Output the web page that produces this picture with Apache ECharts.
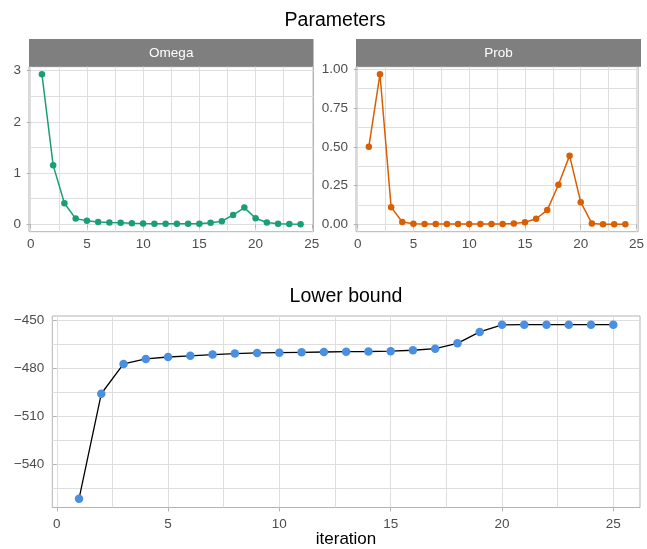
<!DOCTYPE html>
<html><head><meta charset="utf-8">
<script src="https://cdn.jsdelivr.net/npm/echarts@6/dist/echarts.min.js"></script>
<style>html,body{margin:0;padding:0;background:#fff}#c{width:647px;height:549px}</style>
</head><body><div id="c"></div>
<script>
// ---- data ----
const iterParams = [1,2,3,4,5,6,7,8,9,10,11,12,13,14,15,16,17,18,19,20,21,22,23,24];
const omega = [2.93,1.15,0.41,0.11,0.07,0.045,0.035,0.03,0.02,0.015,0.012,0.01,0.01,0.01,0.01,0.03,0.06,0.18,0.325,0.117,0.035,0.008,0.003,0.001];
const prob = [0.5,0.968,0.111,0.015,0.004,0.002,0.002,0.002,0.002,0.002,0.002,0.002,0.003,0.006,0.013,0.036,0.092,0.255,0.443,0.143,0.006,0.001,0.001,0.001];
const iterLB = [1,2,3,4,5,6,7,8,9,10,11,12,13,14,15,16,17,18,19,20,21,22,23,24,25];
const lowerBound = [-561.3,-495.9,-477.3,-474.2,-473.0,-472.3,-471.5,-470.9,-470.5,-470.3,-470.1,-469.9,-469.7,-469.6,-469.4,-468.8,-467.8,-464.5,-457.4,-453.0,-452.9,-452.9,-452.9,-452.9,-452.9];
const xTicks = [0,5,10,15,20,25];
const xMinor = [2.5,7.5,12.5,17.5,22.5];
const omegaTicks = [0,1,2,3];
const omegaMinor = [0.5,1.5,2.5];
const probTicks = [0,0.25,0.5,0.75,1];
const probMinor = [0.125,0.375,0.625,0.875];
const lbTicks = [-540,-510,-480,-450];
const lbMinor = [-555,-525,-495,-465];
const stripLabels = ['Omega','Prob'];
const titles = ['Parameters','Lower bound'];
const xTitle = 'iteration';

// ---- helpers ----
const FONT = '"Liberation Sans", Arial, sans-serif';
function expand(a){const mn=Math.min(...a),mx=Math.max(...a),d=(mx-mn)*0.05;return [mn-d,mx+d];}
const pair = (xs,ys)=>xs.map((x,i)=>[x,ys[i]]);
const GRIDC = '#dedede', BORDER = '#b3b3b3', TXT = '#4d4d4d';
const minus = v => String(v).replace('-', '\u2212');

const grids = [
  {left:29, top:66.7, width:284.5, height:165},
  {left:356, top:66.7, width:285, height:165},
  {left:52.3, top:316, width:587.7, height:191.5}
];
const xr = [expand(iterParams), expand(iterParams), expand(iterLB)];
const yr = [expand(omega), expand(prob), expand(lowerBound)];
const yTicks = [omegaTicks, probTicks, lbTicks];
const yMinor = [omegaMinor, probMinor, lbMinor];
const yFmt = [v=>String(v), v=>v.toFixed(2), minus];
const xMargin = [6,9,9.5];
xMargin[1] = 6;

const xAxis = [], yAxis = [];
grids.forEach((g,i)=>{
  xAxis.push({type:'value', gridIndex:i, min:xr[i][0], max:xr[i][1], position:'bottom',
    axisLine:{show:false},
    axisTick:{show:true, customValues:xTicks, length:4, lineStyle:{color:BORDER}},
    axisLabel:{customValues:xTicks, color:TXT, fontSize:13.5, fontFamily:FONT, margin:xMargin[i]},
    splitLine:{show:true, lineStyle:{color:GRIDC, width:1}}});
  yAxis.push({type:'value', gridIndex:i, min:yr[i][0], max:yr[i][1],
    axisLine:{show:false},
    axisTick:{show:true, customValues:yTicks[i], length:4, lineStyle:{color:BORDER}},
    axisLabel:{customValues:yTicks[i], color:TXT, fontSize:13.5, fontFamily:FONT, margin:8, formatter:yFmt[i]},
    splitLine:{show:true, lineStyle:{color:GRIDC, width:1}}});
});
// minor gridline axes
grids.forEach((g,i)=>{
  xAxis.push({type:'value', gridIndex:i, min:xr[i][0], max:xr[i][1], position:'bottom',
    axisLine:{show:false}, axisLabel:{show:false},
    axisTick:{show:false, customValues:xMinor},
    splitLine:{show:true, lineStyle:{color:GRIDC, width:1}}});
  yAxis.push({type:'value', gridIndex:i, min:yr[i][0], max:yr[i][1], position:'left',
    axisLine:{show:false}, axisLabel:{show:false},
    axisTick:{show:false, customValues:yMinor[i]},
    splitLine:{show:true, lineStyle:{color:GRIDC, width:1}}});
});

const series = [
  {type:'line', xAxisIndex:0, yAxisIndex:0, data:pair(iterParams,omega), symbol:'circle', symbolSize:6.5,
    itemStyle:{color:'#1b9e77'}, lineStyle:{color:'#1b9e77', width:1.5}, z:5},
  {type:'line', xAxisIndex:1, yAxisIndex:1, data:pair(iterParams,prob), symbol:'circle', symbolSize:6.5,
    itemStyle:{color:'#d95f02'}, lineStyle:{color:'#d95f02', width:1.5}, z:5},
  {type:'line', xAxisIndex:2, yAxisIndex:2, data:pair(iterLB,lowerBound), symbol:'circle', symbolSize:8.5,
    itemStyle:{color:'#4a90e2'}, lineStyle:{color:'#000', width:1.3}, z:5}
];

const graphic = [
  {type:'rect', shape:{x:29, y:39, width:284.5, height:27.7}, style:{fill:'#7f7f7f'}},
  {type:'rect', shape:{x:356, y:39, width:285, height:27.7}, style:{fill:'#7f7f7f'}},
  {type:'text', x:171.25, y:53, style:{text:stripLabels[0], fill:'#fff', font:'13.5px '+FONT, textAlign:'center', textVerticalAlign:'middle'}},
  {type:'text', x:498.5, y:53, style:{text:stripLabels[1], fill:'#fff', font:'13.5px '+FONT, textAlign:'center', textVerticalAlign:'middle'}},
  {type:'text', x:335, y:20.3, style:{text:titles[0], fill:'#000', font:'19.5px '+FONT, textAlign:'center', textVerticalAlign:'middle'}},
  {type:'text', x:346, y:297, style:{text:titles[1], fill:'#000', font:'19.5px '+FONT, textAlign:'center', textVerticalAlign:'middle'}},
  {type:'text', x:346, y:539.8, style:{text:xTitle, fill:'#000', font:'17px '+FONT, textAlign:'center', textVerticalAlign:'middle'}}
];

const chart = echarts.init(document.getElementById('c'), null, {renderer:'canvas'});
chart.setOption({
  animation:false,
  backgroundColor:'#fff',
  grid: grids.map(g=>Object.assign({show:true, borderColor:BORDER, borderWidth:1, backgroundColor:'#fff', containLabel:false}, g)),
  xAxis, yAxis, series, graphic
});
</script></body></html>
